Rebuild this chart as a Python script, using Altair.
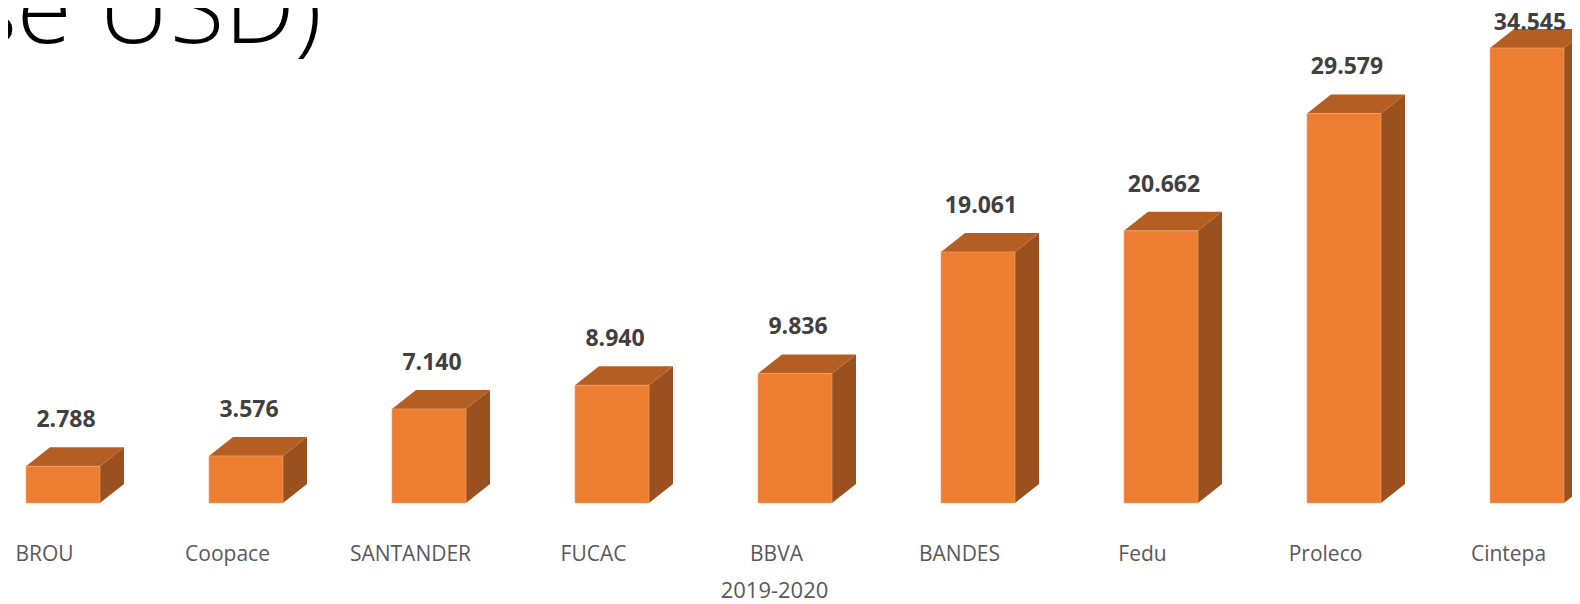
import json
import altair as alt
import pandas as pd

# ---- data ----
categories = ["BROU", "Coopace", "SANTANDER", "FUCAC", "BBVA", "BANDES", "Fedu", "Proleco", "Cintepa"]
values = [2788, 3576, 7140, 8940, 9836, 19061, 20662, 29579, 34545]
period_label = "2019-2020"
title_text = "(base USD)"

idx = list(range(len(categories)))
df = pd.DataFrame({"name": categories, "value": values, "idx": idx})
# one row per polygon vertex of the 3D faces (vertex index k only)
df_top = pd.DataFrame([{"name": n, "value": v, "idx": i, "k": k}
                       for n, v, i in zip(categories, values, idx) for k in range(4)])
df_side = pd.DataFrame([{"name": n, "value": v, "idx": i, "k": k}
                        for n, v, i in zip(categories, values, idx) for k in range(2)])
df_title = pd.DataFrame({"t": [title_text]})

# ---- styling / geometry constants (in scale units) ----
FRONT = "#ED7D31"
TOP = "#B45E24"
SIDE = "#9A501F"
HW = 0.2022      # half width of the front face (category units)
D = 0.1311       # depth of the 3D box (category units)
DY = 1443        # vertical depth of the 3D box (value units)
GAP = 3493       # label distance above bar front top (value units)
CAP = 36444      # highest label position (value units)

W, H = 1564, 522
xscale = alt.Scale(domain=[-0.30055, 8.2459], nice=False, zero=False)
yscale = alt.Scale(domain=[-2050, 37582], nice=False, zero=False)

label_expr = json.dumps(categories) + "[datum.value]"
xaxis = alt.Axis(
    values=idx, labelExpr=label_expr,
    domain=False, ticks=False, grid=False,
    labelFont="Open Sans", labelFontSize=21, labelColor="#595959",
    labelPadding=13, labelOffset=-19, labelFlush=False, labelOverlap=False,
    title=period_label, titleFont="Open Sans", titleFontSize=22, titleColor="#595959",
    titleFontWeight="normal", titleX=766, titleY=67, titleAlign="center",
    titleBaseline="alphabetic",
)

front = alt.Chart(df).transform_calculate(
    x0=f"datum.idx - {HW}", x1=f"datum.idx + {HW}", zero="0"
).mark_rect(color=FRONT, stroke="#F3A978", strokeWidth=0.6).encode(
    x=alt.X("x0:Q", scale=xscale, axis=xaxis),
    x2="x1:Q",
    y=alt.Y("zero:Q", scale=yscale, axis=None),
    y2="value:Q",
)

top = alt.Chart(df_top).transform_calculate(
    px=f"datum.idx + [-{HW}, -{HW}+{D}, {HW}, {HW}+{D}][datum.k]",
    ylo=f"datum.value + [0, 0, 0, {DY}][datum.k]",
    yhi=f"datum.value + [0, {DY}, {DY}, {DY}][datum.k]",
).mark_area(color=TOP, opacity=1, orient="vertical", interpolate="linear").encode(
    x=alt.X("px:Q", scale=xscale, axis=xaxis),
    y=alt.Y("ylo:Q", scale=yscale, axis=None),
    y2="yhi:Q",
    detail="name:N",
)

side = alt.Chart(df_side).transform_calculate(
    px=f"datum.idx + {HW} + [0, {D}][datum.k]",
    ylo=f"[0, {DY}][datum.k]",
    yhi=f"datum.value + [0, {DY}][datum.k]",
).mark_area(color=SIDE, opacity=1, orient="vertical", interpolate="linear").encode(
    x=alt.X("px:Q", scale=xscale, axis=xaxis),
    y=alt.Y("ylo:Q", scale=yscale, axis=None),
    y2="yhi:Q",
    detail="name:N",
)

labels = alt.Chart(df).transform_calculate(
    ly=f"min(datum.value + {GAP}, {CAP})",
    label="replace(format(datum.value, ','), ',', '.')",
).mark_text(
    font="Open Sans", fontSize=23, fontWeight="bold", color="#404040", dx=3, baseline="middle"
).encode(
    x=alt.X("idx:Q", scale=xscale, axis=xaxis),
    y=alt.Y("ly:Q", scale=yscale, axis=None),
    text="label:N",
)

title = alt.Chart(df_title).mark_text(
    font="Open Sans", fontSize=100, fontWeight=300, color="#000000",
    align="right", baseline="alphabetic",
).encode(text="t:N", x=alt.value(314), y=alt.value(35))

chart = alt.layer(side, top, front, labels, title).properties(
    width=W, height=H,
    background="white",
    autosize=alt.AutoSizeParams(type="none"),
    padding={"left": 0, "top": 0, "right": 0, "bottom": 68},
).configure_view(strokeWidth=0, strokeOpacity=0)

chart.save("out.html", embed_options={"renderer": "svg", "actions": False})
